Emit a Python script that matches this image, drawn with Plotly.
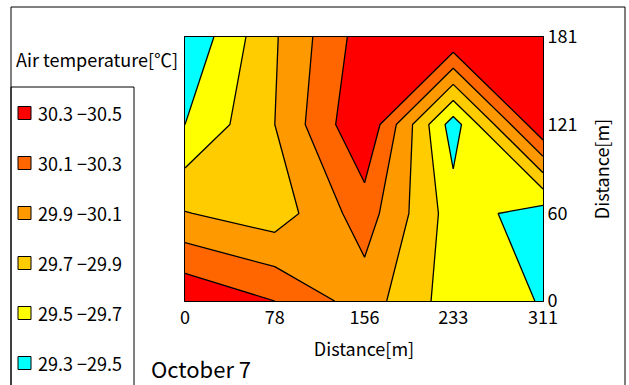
import plotly.graph_objects as go

# ---- data ----
x_dist = [0, 78, 156, 233, 311]
y_dist = [0, 60, 121, 181]
temps = [
    [30.48, 30.30, 30.00, 29.60, 29.49],   # y = 0
    [29.91, 29.79, 30.20, 29.60, 29.40],   # y = 60
    [29.50, 29.90, 30.49, 29.40, 30.49],   # y = 121
    [29.32, 29.88, 30.40, 30.49, 30.45],   # y = 181
]
levels = [29.3, 29.5, 29.7, 29.9, 30.1, 30.3, 30.5]
band_colors = ["#00FFFF", "#FFFF00", "#FFCC00", "#FF9900", "#FF6600", "#FF0000"]
legend_title = "Air temperature[℃]"
date_label = "October 7"
x_title = "Distance[m]"
y_title = "Distance[m]"

W, H = 629, 385
L, R, T, B = 185, 543, 37, 301
FONT = "Noto Sans CJK JP"

step = levels[1] - levels[0]
nlev = len(levels)
# plotly fill colormap: band above level k sampled at scale (k+1)/nlev
cs = [[0.0, band_colors[0]]]
for k, c in enumerate(band_colors):
    cs.append([(k + 1) / nlev, c])
cs.append([1.0, band_colors[-1]])

fig = go.Figure(go.Contour(
    x=x_dist, y=y_dist, z=temps,
    autocontour=False,
    contours=dict(start=levels[0], end=levels[-1], size=step, coloring="fill"),
    colorscale=cs, showscale=False,
    line=dict(color="black", width=1.3, smoothing=0),
    hoverinfo="skip",
))

def px2x(px):
    return (px - L) / (R - L)

def px2y(py):
    return (B - py) / (B - T)

shapes = []
annotations = []
# outer chart frame
shapes.append(dict(type="rect", xref="paper", yref="paper",
                   x0=px2x(11), x1=px2x(625), y0=px2y(395), y1=px2y(7),
                   line=dict(color="black", width=1), layer="below"))
# legend box
shapes.append(dict(type="rect", xref="paper", yref="paper",
                   x0=px2x(11), x1=px2x(134), y0=px2y(395), y1=px2y(87),
                   line=dict(color="black", width=1), layer="below"))
annotations.append(dict(text=legend_title, xref="paper", yref="paper",
                        x=px2x(14), y=px2y(59), xanchor="left", yanchor="middle",
                        showarrow=False, font=dict(family=FONT, size=18, color="black")))
# legend items (highest band on top)
n_b = len(band_colors)
for i in range(n_b):
    k = n_b - 1 - i
    cy = 113 + i * 50
    shapes.append(dict(type="rect", xref="paper", yref="paper",
                       x0=px2x(18), x1=px2x(31), y0=px2y(cy + 6.5), y1=px2y(cy - 6.5),
                       fillcolor=band_colors[k], line=dict(color="black", width=1)))
    annotations.append(dict(text=f"{levels[k]:.1f} −{levels[k+1]:.1f}",
                            xref="paper", yref="paper", x=px2x(36), y=px2y(cy),
                            xanchor="left", yanchor="middle", showarrow=False,
                            font=dict(family=FONT, size=18, color="black")))
annotations.append(dict(text=date_label, xref="paper", yref="paper",
                        x=px2x(149), y=px2y(368), xanchor="left", yanchor="middle",
                        showarrow=False, font=dict(family=FONT, size=22, color="black")))

fig.update_layout(
    width=W, height=H,
    margin=dict(l=L, r=W - R, t=T, b=H - B, autoexpand=False),
    paper_bgcolor="white", plot_bgcolor="white",
    showlegend=False,
    shapes=shapes, annotations=annotations,
    font=dict(family=FONT, color="black"),
    xaxis=dict(range=[x_dist[0], x_dist[-1]], tickvals=x_dist,
               ticktext=[str(v) for v in x_dist],
               showgrid=True, gridcolor="black", gridwidth=1,
               showline=True, linecolor="black", linewidth=1, mirror=True,
               zeroline=False, ticks="", layer="above traces", automargin=False,
               tickfont=dict(family=FONT, size=18),
               title=dict(text=x_title, font=dict(family=FONT, size=18), standoff=15)),
    yaxis=dict(range=[y_dist[0], y_dist[-1]], tickvals=y_dist,
               ticktext=[str(v) for v in y_dist], side="right",
               showgrid=True, gridcolor="black", gridwidth=1,
               showline=True, linecolor="black", linewidth=1, mirror=True,
               zeroline=False, ticks="", layer="above traces", automargin=False,
               tickfont=dict(family=FONT, size=18),
               title=dict(text=y_title, font=dict(family=FONT, size=18), standoff=19)),
)

fig.write_html("out.html", config={"displayModeBar": False},
               post_script="document.body.style.margin='0px';")
